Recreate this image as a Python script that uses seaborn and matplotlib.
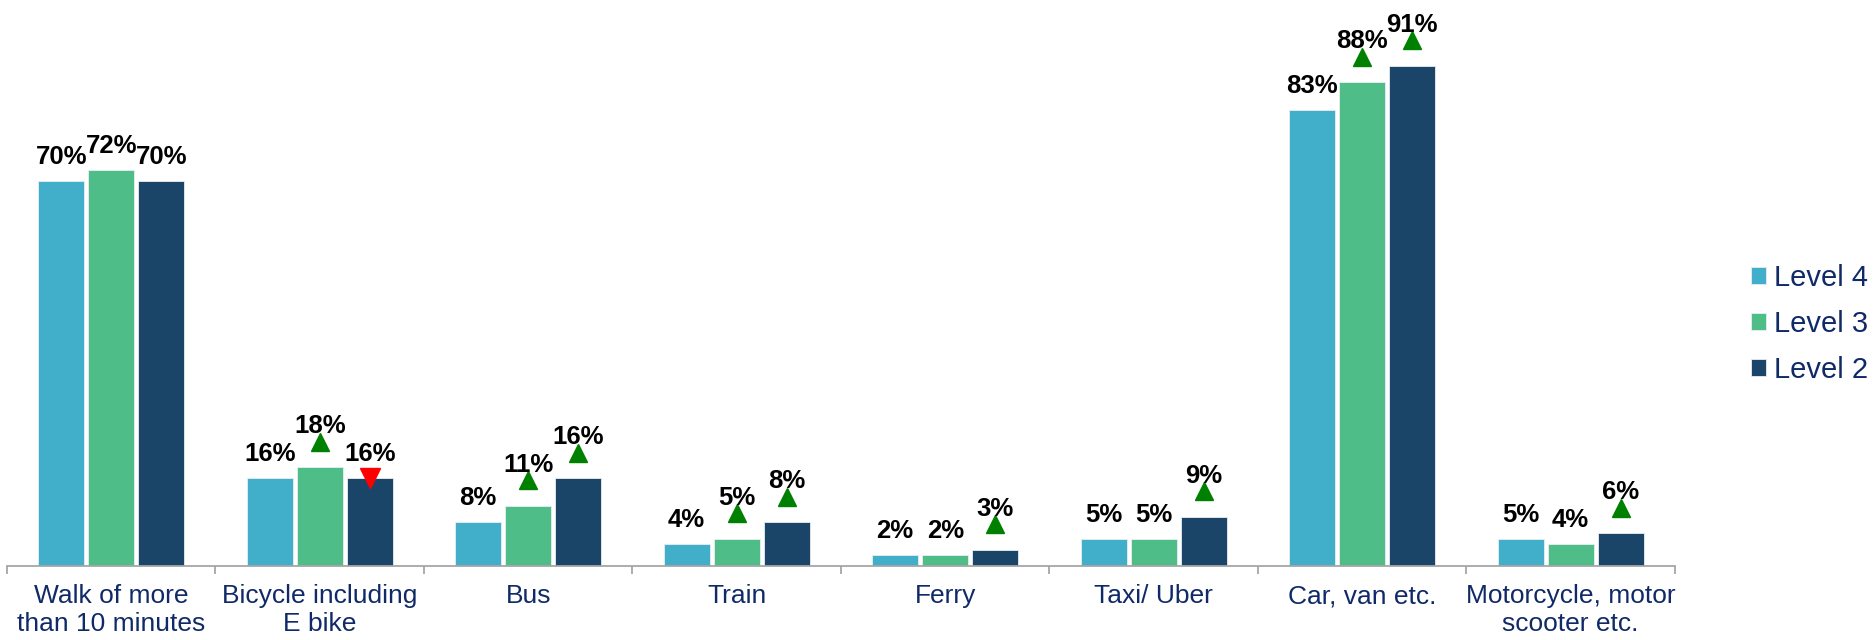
import matplotlib

matplotlib.use("Agg")
import matplotlib.pyplot as plt
import matplotlib.transforms as mtransforms
import pandas as pd
import seaborn as sns

# ---------------------------------------------------
# Data
# ---------------------------------------------------
categories = [
    "Walk of more\nthan 10 minutes",
    "Bicycle including\nE bike",
    "Bus",
    "Train",
    "Ferry",
    "Taxi/ Uber",
    "Car, van etc.",
    "Motorcycle, motor\nscooter etc.",
]
levels = ["Level 4", "Level 3", "Level 2"]

level4 = [70, 16, 8, 4, 2, 5, 83, 5]
level3 = [72, 18, 11, 5, 2, 5, 88, 4]
level2 = [70, 16, 16, 8, 3, 9, 91, 6]

# significant change vs. previous level: "up", "down" or None
change4 = [None, None, None, None, None, None, None, None]
change3 = [None, "up", "up", "up", None, None, "up", None]
change2 = [None, "down", "up", "up", "up", "up", "up", "up"]

colors = ["#41AFC9", "#4FBD88", "#1B4469"]
NAVY = "#102A68"

df = pd.DataFrame(
    {
        "category": categories * 3,
        "level": [lv for lv in levels for _ in categories],
        "value": level4 + level3 + level2,
    }
)
changes = [change4, change3, change2]

# ---------------------------------------------------
# Plot
# ---------------------------------------------------
sns.set_style("white")
plt.rcParams["font.family"] = ["Liberation Sans", "DejaVu Sans"]

fig = plt.figure(figsize=(18.75, 6.4), dpi=100)
ax = fig.add_axes([0.0037, 0.1156, 0.8896, 0.859])

sns.barplot(
    data=df,
    x="category",
    y="value",
    hue="level",
    order=categories,
    hue_order=levels,
    palette=colors,
    width=0.72,
    gap=0.08,
    edgecolor="#E8EEF2",
    linewidth=0.6,
    saturation=1,
    ax=ax,
)

ax.set_ylim(0, 100)
ax.set_xlim(-0.5, len(categories) - 0.5)
ax.set_xlabel("")
ax.set_ylabel("")
ax.set_yticks([])
for side in ["left", "right", "top"]:
    ax.spines[side].set_visible(False)
ax.spines["bottom"].set_color("#A6A6A6")
ax.spines["bottom"].set_linewidth(1.3)

ax.set_xticks(range(len(categories)))
ax.set_xticklabels(categories, fontsize=19, color=NAVY, linespacing=1.2)
ax.tick_params(axis="x", which="major", bottom=True, length=0, pad=13)
ax.set_xticks([i - 0.5 for i in range(len(categories) + 1)], minor=True)
ax.tick_params(axis="x", which="minor", bottom=True, length=6, width=1.3,
               color="#A6A6A6", direction="out")

# value labels + change arrows
up_off = mtransforms.offset_copy(ax.transData, fig=fig, y=25.5, units="dots")
for container, chg in zip(ax.containers, changes):
    for bar, c in zip(container.patches, chg):
        x = bar.get_x() + bar.get_width() / 2
        h = bar.get_height()
        lift = 34 if c == "up" else 17
        ax.annotate(
            f"{h:.0f}%",
            (x, h),
            xytext=(0, lift),
            textcoords="offset pixels",
            ha="center",
            va="baseline",
            fontsize=18.5,
            fontweight="bold",
            color="black",
        )
        if c == "up":
            ax.plot(x, h, marker="^", markersize=13.5, color="#008000",
                    transform=up_off, clip_on=False)
        elif c == "down":
            ax.plot(x, h, marker="v", markersize=14, color="#FF0000", clip_on=False)

sns.move_legend(
    ax,
    "center left",
    bbox_to_anchor=(0.934, 0.494),
    bbox_transform=fig.transFigure,
    frameon=False,
    title=None,
    fontsize=21,
    handlelength=0.52,
    handleheight=0.52,
    handletextpad=0.25,
    labelspacing=0.62,
    borderpad=0,
    borderaxespad=0,
)
for t in ax.get_legend().get_texts():
    t.set_color(NAVY)

plt.savefig("out.png", dpi=100)
plt.close()
